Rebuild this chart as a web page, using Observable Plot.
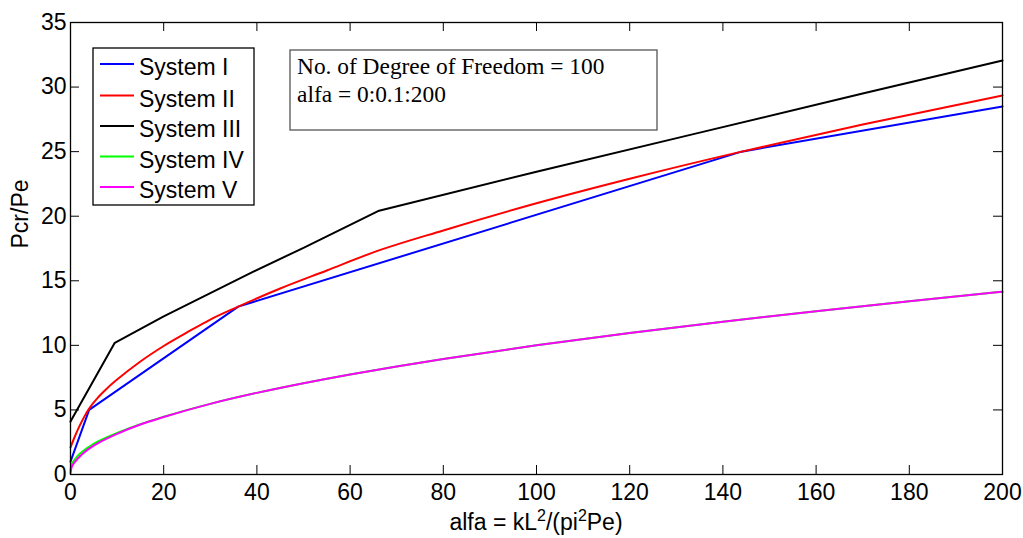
<!DOCTYPE html>
<html>
<head>
<meta charset="utf-8">
<script src="https://cdn.jsdelivr.net/npm/d3@7"></script>
<script src="https://cdn.jsdelivr.net/npm/@observablehq/plot@0.6"></script>
<style>
  html, body { margin: 0; padding: 0; background: #fff; }
  #wrap { position: relative; width: 1023px; height: 538px; }
</style>
</head>
<body>
<div id="wrap"></div>
<script>
// ---- data ----
const xTicks = [0, 20, 40, 60, 80, 100, 120, 140, 160, 180, 200];
const yTicks = [0, 5, 10, 15, 20, 25, 30, 35];

const seriesNames = ["System I", "System II", "System III", "System IV", "System V"];
const seriesColors = ["#0000ff", "#ff0000", "#000000", "#00ff00", "#ff00ff"];

const alfa1 = [0, 4, 36, 144, 200];
const pcr1  = [1.0, 5.0, 13.0, 25.0, 28.5];

const alfa2 = [0, 1, 2, 3, 4, 6, 8, 10, 15, 20, 25, 30, 36, 45, 55, 65, 80, 100, 120, 144, 170, 200];
const pcr2  = [2.1, 3.0, 3.8, 4.5, 5.1, 6.0, 6.72, 7.35, 8.75, 9.95, 11.0, 12.0, 13.0, 14.4, 15.8, 17.2, 18.9, 21.0, 22.9, 25.0, 27.1, 29.35];

const alfa3 = [0, 9.5, 20, 38.6, 50, 66, 100, 133, 170, 200];
const pcr3  = [4.1, 10.2, 12.25, 15.6, 17.55, 20.4, 23.45, 26.3, 29.5, 32.05];

const alfa4 = [0, 0.2, 0.5, 1, 2, 3, 4, 6, 8, 10, 15, 20, 30, 40, 50, 60, 70, 80, 100, 120, 140, 160, 180, 200];
const pcr4  = [0.3, 0.7, 0.95, 1.2, 1.6, 1.9, 2.15, 2.58, 2.92, 3.22, 3.9, 4.47, 5.47, 6.32, 7.07, 7.75, 8.37, 8.94, 10.0, 10.95, 11.83, 12.65, 13.42, 14.15];

const alfa5 = [0, 0.2, 0.5, 1, 2, 3, 4, 6, 8, 10, 15, 20, 30, 40, 50, 60, 70, 80, 100, 120, 140, 160, 180, 200];
const pcr5  = [0.1, 0.5, 0.75, 1.0, 1.4, 1.72, 2.0, 2.45, 2.82, 3.15, 3.87, 4.45, 5.47, 6.32, 7.07, 7.75, 8.37, 8.94, 10.0, 10.95, 11.83, 12.65, 13.42, 14.15];

const noteLines = ["No. of Degree of Freedom = 100", "alfa = 0:0.1:200"];
// x label pieces: [text, isSuperscript]
const xLabelParts = [["alfa = kL", false], ["2", true], ["/(pi", false], ["2", true], ["Pe)", false]];
const yLabel = "Pcr/Pe";

// ---- build ----
const toRows = (xs, ys) => xs.map((a, i) => ({a, v: ys[i]}));
const series = [
  toRows(alfa1, pcr1), toRows(alfa2, pcr2), toRows(alfa3, pcr3),
  toRows(alfa4, pcr4), toRows(alfa5, pcr5)
];
const curves = ["linear", "monotone-x", "linear", "monotone-x", "monotone-x"];

const W = 1023, H = 538, mL = 70, mR = 21, mT = 22, mB = 64;
const frameH = H - mT - mB, frameW = W - mL - mR;
const tickLen = 9;
const FS = 23;
const SANS = "'Liberation Sans', Arial, sans-serif";

const chart = Plot.plot({
  width: W, height: H,
  marginLeft: mL, marginRight: mR, marginTop: mT, marginBottom: mB,
  style: {fontFamily: SANS, fontSize: FS + "px", background: "#fff", color: "#000"},
  x: {domain: [0, 200]},
  y: {domain: [0, 35]},
  marks: [
    ...series.map((rows, i) => Plot.line(rows, {x: "a", y: "v", stroke: seriesColors[i], strokeWidth: 2, curve: curves[i]})),
    Plot.frame({stroke: "#000", strokeWidth: 1.3}),
    // inward ticks on all four sides
    Plot.tickX(xTicks, {x: d => d, insetTop: frameH - tickLen, stroke: "#000"}),
    Plot.tickX(xTicks, {x: d => d, insetBottom: frameH - tickLen, stroke: "#000"}),
    Plot.tickY(yTicks, {y: d => d, insetRight: frameW - tickLen, stroke: "#000"}),
    Plot.tickY(yTicks, {y: d => d, insetLeft: frameW - tickLen, stroke: "#000"}),
    Plot.axisX(xTicks, {tickSize: 0, tickPadding: 9, label: null, fontSize: FS}),
    Plot.axisY(yTicks, {tickSize: 0, tickPadding: 4, label: null, fontSize: FS}),
    Plot.text([yLabel], {frameAnchor: "left", dx: -50, rotate: -90, fontSize: FS, text: d => d})
  ]
});

const wrap = document.getElementById("wrap");
wrap.appendChild(chart);

// ---- overlay: x label, legend & note box ----
const ov = d3.select(wrap).append("svg")
  .attr("width", W).attr("height", H)
  .style("position", "absolute").style("left", 0).style("top", 0);

const xl = ov.append("text").attr("x", (mL + W - mR) / 2).attr("y", 530)
  .attr("text-anchor", "middle").attr("font-family", SANS).attr("font-size", FS);
let raised = false;
xLabelParts.forEach(([t, sup]) => {
  const ts = xl.append("tspan").text(t);
  if (sup && !raised) { ts.attr("dy", -9).attr("font-size", 16); raised = true; }
  else if (sup) { ts.attr("font-size", 16); }
  else if (raised) { ts.attr("dy", 9); raised = false; }
});

const lg = ov.append("g");
lg.append("rect").attr("x", 93).attr("y", 48).attr("width", 161).attr("height", 157)
  .attr("fill", "#fff").attr("stroke", "#000").attr("stroke-width", 1.3);
const rowY = [64, 95.5, 126, 156.5, 187];
seriesNames.forEach((name, i) => {
  lg.append("line").attr("x1", 100).attr("x2", 134).attr("y1", rowY[i]).attr("y2", rowY[i])
    .attr("stroke", seriesColors[i]).attr("stroke-width", 2);
  lg.append("text").attr("x", 139).attr("y", rowY[i] + 11)
    .attr("font-family", SANS).attr("font-size", FS)
    .text(name);
});

const nt = ov.append("g");
nt.append("rect").attr("x", 290).attr("y", 50).attr("width", 367).attr("height", 80)
  .attr("fill", "#fff").attr("stroke", "#555").attr("stroke-width", 1.3);
noteLines.forEach((t, i) => {
  nt.append("text").attr("x", 297).attr("y", 74 + i * 28)
    .attr("font-family", "'Liberation Serif', 'Times New Roman', serif").attr("font-size", 23.4)
    .text(t);
});
</script>
</body>
</html>
